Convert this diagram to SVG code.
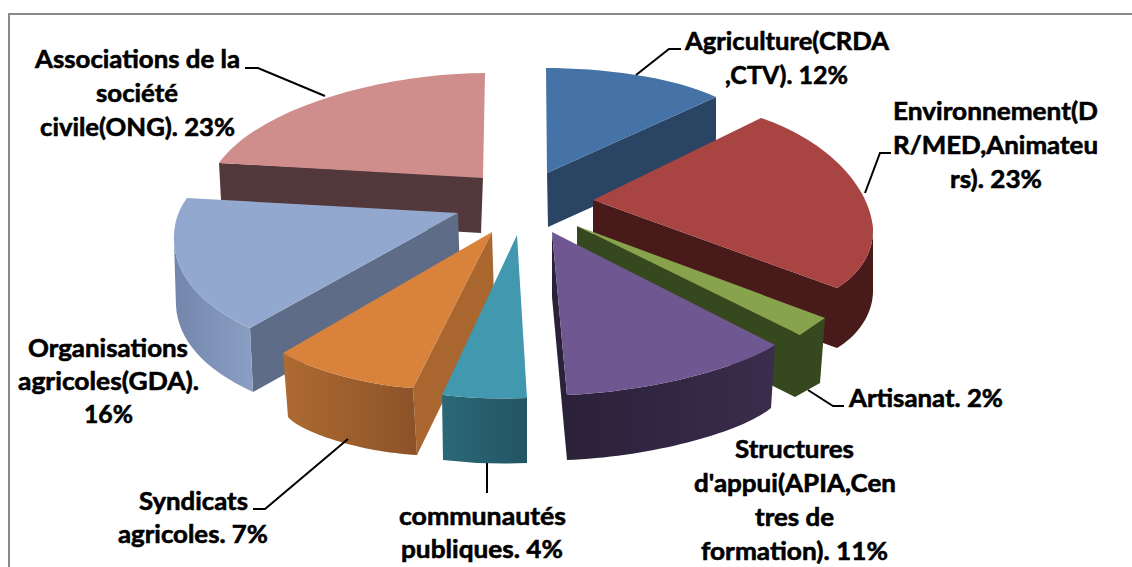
<svg xmlns="http://www.w3.org/2000/svg" width="1132" height="567" viewBox="0 0 1132 567">
<defs>
<style>
.lbl{font-family:Lato,"Liberation Sans",sans-serif;font-weight:bold;font-size:25px;fill:#000;stroke:#000;stroke-width:0.6}
.mid{text-anchor:middle}
.lead{fill:none;stroke:#000;stroke-width:2}
</style>
<linearGradient id="gLav" x1="0" y1="0" x2="1" y2="0"><stop offset="0" stop-color="#7385AA"/><stop offset="1" stop-color="#8B9FC5"/></linearGradient>
<linearGradient id="gOra" x1="0" y1="0" x2="1" y2="0"><stop offset="0" stop-color="#AE6B32"/><stop offset="1" stop-color="#8C5228"/></linearGradient>
<linearGradient id="gTeal" x1="0" y1="0" x2="1" y2="0"><stop offset="0" stop-color="#2B6877"/><stop offset="1" stop-color="#235563"/></linearGradient>
<linearGradient id="gPur" x1="0" y1="0" x2="1" y2="0"><stop offset="0" stop-color="#2B2139"/><stop offset="1" stop-color="#3A2D4D"/></linearGradient>
</defs>
<rect width="1132" height="567" fill="#fff"/>
<rect x="9" y="14" width="1140" height="580" fill="none" stroke="#898989" stroke-width="2"/>

<g id="slice-agriculture">
<path d="M547,173 L716,97 L716,151 L548,227 Z" fill="#2A4563"/>
<path d="M547,173 L546,68 C600,68 670,76 716,97 Z" fill="#4572A7"/>
</g>
<g id="slice-associations">
<path d="M219,163 L483,177 L481,233 L222,218 Z" fill="#52383A"/>
<path d="M483,178 L485,73 C392,73 262,104 219,163 Z" fill="#CF8D8C"/>
</g>
<g id="slice-environnement">
<path d="M593,200 L837,288 C860,274 874,252 873,228 L873,288 C874,312 860,334 837,348 L593,260 Z" fill="#481B1A"/>
<path d="M593,200 L761,118 C820,138 868,180 873,228 C874,252 860,274 837,288 Z" fill="#A84442"/>
</g>
<g id="slice-organisations">
<path d="M250,328 L458,213 L460,277 L253,392 Z" fill="#5E6C87"/>
<path d="M174,242 C176,275 200,305 250,328 L253,392 C203,369 178,339 176,306 Z" fill="url(#gLav)"/>
<path d="M458,213 L187,198 C178,210 173,225 174,242 C176,275 200,305 250,328 Z" fill="#93A8CE"/>
</g>
<g id="slice-artisanat">
<path d="M577,226 L800,335 L825,318 L820,383 L795,397 L577,288 Z" fill="#35481E"/>
<path d="M577,226 L825,318 L800,335 Z" fill="#87A34C"/>
</g>
<g id="slice-syndicats">
<path d="M492,232 L413,388 L417,455 L494,297 Z" fill="#A9662E"/>
<path d="M283,353 C300,365 360,385 413,388 L417,455 C360,452 300,432 288,417 Z" fill="url(#gOra)"/>
<path d="M492,232 L283,353 C300,365 360,385 413,388 Z" fill="#D9823C"/>
</g>
<g id="slice-communautes">
<path d="M442,395 Q485,400 527,398 L527,463 Q485,465 443,460 Z" fill="url(#gTeal)"/>
<path d="M517,235 L527,398 Q485,400 442,395 Z" fill="#4198AF"/>
</g>
<g id="slice-structures">
<path d="M552,232 L567,395 L567,460 L552,297 Z" fill="#2B2139"/>
<path d="M775,345 C740,368 650,392 567,395 L567,460 C650,457 740,433 771,408 Z" fill="url(#gPur)"/>
<path d="M552,232 L775,345 C740,368 650,392 567,395 Z" fill="#6F5891"/>
</g>

<g id="connectors">
<path class="lead" d="M245,68 L258,68 L325,96"/>
<path class="lead" d="M681,49 L669,49 L636,75"/>
<path class="lead" d="M891,153 L880,153 L865,193"/>
<path class="lead" d="M844,406 L833,406 L808,390"/>
<path class="lead" d="M487,463 L487,493"/>
<path class="lead" d="M253,509 L265,509 L348,439"/>
</g>

<g id="label-associations" class="lbl mid">
<text x="137.5" y="68" textLength="205" lengthAdjust="spacingAndGlyphs">Associations de la</text>
<text x="137" y="102" textLength="82" lengthAdjust="spacingAndGlyphs">société</text>
<text x="137.5" y="136" textLength="195" lengthAdjust="spacingAndGlyphs">civile(ONG). 23%</text>
</g>
<g id="label-agriculture" class="lbl mid">
<text x="787" y="50" textLength="204" lengthAdjust="spacingAndGlyphs">Agriculture(CRDA</text>
<text x="786.5" y="84" textLength="123" lengthAdjust="spacingAndGlyphs">,CTV). 12%</text>
</g>
<g id="label-environnement" class="lbl mid">
<text x="995.5" y="120" textLength="205" lengthAdjust="spacingAndGlyphs">Environnement(D</text>
<text x="995.5" y="154" textLength="205" lengthAdjust="spacingAndGlyphs">R/MED,Animateu</text>
<text x="996" y="188" textLength="92" lengthAdjust="spacingAndGlyphs">rs). 23%</text>
</g>
<g id="label-artisanat" class="lbl">
<text x="849" y="407" textLength="154" lengthAdjust="spacingAndGlyphs">Artisanat. 2%</text>
</g>
<g id="label-structures" class="lbl mid">
<text x="794.5" y="458" textLength="119" lengthAdjust="spacingAndGlyphs">Structures</text>
<text x="795" y="492" textLength="202" lengthAdjust="spacingAndGlyphs">d'appui(APIA,Cen</text>
<text x="794.5" y="526" textLength="79" lengthAdjust="spacingAndGlyphs">tres de</text>
<text x="794.5" y="560" textLength="187" lengthAdjust="spacingAndGlyphs">formation). 11%</text>
</g>
<g id="label-communautes" class="lbl mid">
<text x="482.5" y="525" textLength="167" lengthAdjust="spacingAndGlyphs">communautés</text>
<text x="482" y="558" textLength="162" lengthAdjust="spacingAndGlyphs">publiques. 4%</text>
</g>
<g id="label-syndicats" class="lbl mid">
<text x="193.5" y="510" textLength="109" lengthAdjust="spacingAndGlyphs">Syndicats</text>
<text x="193" y="543" textLength="150" lengthAdjust="spacingAndGlyphs">agricoles. 7%</text>
</g>
<g id="label-organisations" class="lbl mid">
<text x="108" y="357" textLength="160" lengthAdjust="spacingAndGlyphs">Organisations</text>
<text x="108.5" y="390" textLength="181" lengthAdjust="spacingAndGlyphs">agricoles(GDA).</text>
<text x="108.5" y="423" textLength="49" lengthAdjust="spacingAndGlyphs">16%</text>
</g>
</svg>
